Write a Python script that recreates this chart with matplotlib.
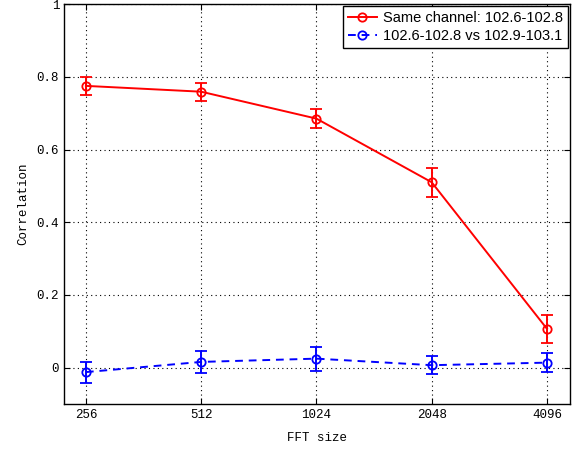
import numpy as np
import matplotlib
matplotlib.use("Agg")
import matplotlib.pyplot as plt

# FFT sizes and correlation values
fft_sizes = [256, 512, 1024, 2048, 4096]
same_mean = [0.775, 0.759, 0.685, 0.510, 0.107]
same_err = [0.025, 0.025, 0.027, 0.040, 0.039]
cross_mean = [-0.012, 0.016, 0.025, 0.007, 0.014]
cross_err = [0.029, 0.031, 0.033, 0.024, 0.027]
yticks = [0, 0.2, 0.4, 0.6, 0.8, 1]
ytick_labels = ["0", "0.2", "0.4", "0.6", "0.8", "1"]

mono = "Liberation Mono"

fig = plt.figure(figsize=(5.79, 4.5), dpi=100)
ax = fig.add_axes([0.1105, 0.102, 0.874, 0.889])

x = np.arange(len(fft_sizes))
eb1 = ax.errorbar(x, same_mean, yerr=same_err, color="red", linestyle="-",
                  marker="o", markersize=6, markerfacecolor="none", markeredgewidth=1.3,
                  linewidth=1.4, capsize=4, elinewidth=1.4, capthick=1.4)
eb2 = ax.errorbar(x, cross_mean, yerr=cross_err, color="blue", linestyle="--",
                  marker="o", markersize=6, markerfacecolor="none", markeredgewidth=1.3,
                  linewidth=1.4, capsize=4, elinewidth=1.4, capthick=1.4,
                  dashes=(4, 3))

ax.set_xlim(-0.19, 4.2)
ax.set_ylim(-0.1, 1.0)
ax.set_xticks(x)
ax.set_xticklabels([str(s) for s in fft_sizes], family=mono, fontsize=9)
ax.set_yticks(yticks)
ax.set_yticklabels(ytick_labels, family=mono, fontsize=9)
ax.tick_params(direction="in", top=True, right=True, length=4, color="black")
ax.grid(True, linestyle=(0, (1, 3)), color="black", linewidth=0.8)
for sp in ax.spines.values():
    sp.set_linewidth(1.0)

ax.set_xlabel("FFT size", family=mono, fontsize=9, labelpad=8)
ax.set_ylabel("Correlation", family=mono, fontsize=9, labelpad=5)

leg = ax.legend([eb1[0], eb2[0]],
                ["Same channel: 102.6-102.8", "102.6-102.8 vs 102.9-103.1"],
                loc="upper right", prop={"family": "Liberation Sans", "size": 10.5},
                fancybox=False, framealpha=1, edgecolor="black",
                borderaxespad=0.15, handlelength=2.0, handletextpad=0.4,
                labelspacing=0.25, borderpad=0.35)
leg.get_frame().set_linewidth(1.0)

fig.savefig("out.png", dpi=100)
